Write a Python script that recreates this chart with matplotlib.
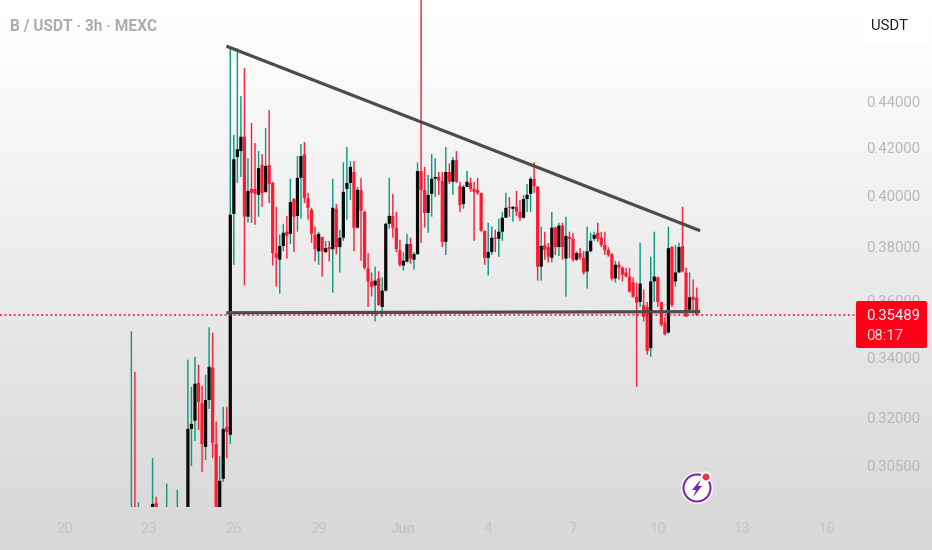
"""B / USDT 3h candles with a hand-drawn descending triangle, TradingView style."""

import matplotlib
matplotlib.use("Agg")
import matplotlib.pyplot as plt
from matplotlib.patches import Circle, FancyBboxPatch, Polygon
import numpy as np

plt.rcParams["font.family"] = ["Roboto", "DejaVu Sans"]

PAIR_TITLE = "B / USDT · 3h · MEXC"
LAST_PRICE = 0.35489
COUNTDOWN = "08:17"

# price ticks (log axis) and date ticks
PRICE_TICKS = [0.44, 0.42, 0.40, 0.38, 0.36, 0.34, 0.32, 0.305]
DATE_SLOTS = [-47, -23, 1, 25, 49, 73, 97, 121, 145, 169]
DATE_LABELS = ["20", "23", "26", "29", "Jun", "4", "7", "10", "13", "16"]

# 3h bar number, 0 is the big breakout bar; early bars are sparse
SLOTS = [-28, -27, -26, -22, -21, -18, -15] + list(range(-12, 133))

OPENS = [
    .2925, .2926, .2925, .2925, .2936, .2925, .2925,
    .2925, .3164, .3190, .3314, .3247, .3107, .3257, .3365, .3116, .2925, .3009, .3171,
    .3145, .3928, .4159, .4184, .4245, .3917, .4028, .4028, .4004, .4126, .4016, .4126,
    .4052, .3776, .3751, .3803, .3858, .3850, .3987, .3920, .4073, .4171, .3991, .3944,
    .3846, .3783, .3838, .3780, .3799, .3791, .3948, .3799, .3835, .4028, .4052, .4097,
    .3874, .4024, .3936, .3718, .3670, .3655, .3681, .3577, .3636, .3889, .3920, .3874,
    .3787, .3729, .3744, .3811, .3751, .3772, .4101, .4024, .3932, .4008, .4069, .4077,
    .4061, .3819, .4097, .4057, .4146, .4040, .3967, .4036, .4052, .4028, .4024, .4012,
    .3862, .3758, .3780, .3835, .3831, .3858, .3913, .3956, .3948, .3956, .3936, .3913,
    .3987, .4008, .4069, .4036, .3725, .3807, .3799, .3758, .3874, .3799, .3882, .3755,
    .3838, .3831, .3751, .3776, .3758, .3707, .3783, .3831, .3854, .3835, .3807, .3787,
    .3772, .3681, .3732, .3721, .3703, .3688, .3666, .3614, .3595, .3584, .3577, .3432,
    .3670, .3685, .3595, .3521, .3486, .3799, .3670, .3703, .3803, .3703, .3567, .3614,
    .3610,
]
HIGHS = [
    .3490, .3351, .2939, .3072, .2955, .2994, .2976,
    .3392, .3301, .3402, .3375, .3304, .3341, .3504, .3486, .3187, .3078, .3235, .3235,
    .4650, .4253, .4640, .4422, .4548, .4154, .4304, .4218, .4184, .4171, .4283, .4360,
    .4057, .3956, .3847, .3889, .3920, .4069, .3991, .4163, .4214, .4222, .4012, .3952,
    .3878, .3858, .3838, .3823, .3823, .4069, .3967, .3866, .4137, .4201, .4142, .4142,
    .4036, .4073, .3940, .3776, .3703, .3725, .3707, .3685, .3893, .4073, .4008, .3936,
    .3827, .3780, .3850, .3835, .3780, .4137, .4900, .4118, .4085, .4171, .4154, .4097,
    .4097, .4201, .4133, .4159, .4184, .4057, .4044, .4101, .4073, .4057, .4073, .4012,
    .3862, .3893, .3878, .3866, .3909, .3936, .4012, .3995, .3959, .4020, .3983, .4004,
    .4048, .4077, .4137, .4040, .3878, .3858, .3815, .3936, .3878, .3893, .3893, .3917,
    .3858, .3854, .3783, .3795, .3783, .3878, .3854, .3858, .3893, .3858, .3858, .3799,
    .3776, .3747, .3744, .3725, .3721, .3721, .3685, .3666, .3815, .3640, .3595, .3762,
    .3858, .3688, .3595, .3542, .3878, .3803, .3807, .3815, .3956, .3721, .3703, .3677,
    .3647,
]
LOWS = [
    .2925, .2925, .2925, .2925, .2925, .2925, .2925,
    .2925, .3048, .3126, .3161, .3030, .3066, .3228, .3072, .2925, .2925, .3000, .3072,
    .3116, .3732, .4052, .4077, .3655, .3893, .3893, .3885, .3917, .3956, .4012, .3971,
    .3729, .3651, .3625, .3783, .3755, .3811, .3780, .3858, .3909, .3971, .3905, .3815,
    .3744, .3732, .3688, .3776, .3744, .3629, .3772, .3703, .3823, .3905, .3983, .3783,
    .3870, .3747, .3714, .3577, .3614, .3525, .3581, .3542, .3633, .3870, .3835, .3780,
    .3725, .3710, .3740, .3736, .3714, .3769, .3815, .3874, .3854, .3917, .3995, .4004,
    .3799, .3769, .4048, .4004, .4052, .3936, .3948, .4036, .4016, .3823, .4004, .3858,
    .3732, .3692, .3769, .3780, .3762, .3823, .3913, .3917, .3897, .3920, .3901, .3909,
    .3936, .3936, .4012, .3673, .3673, .3751, .3740, .3740, .3769, .3765, .3751, .3614,
    .3758, .3744, .3747, .3751, .3695, .3644, .3780, .3823, .3819, .3799, .3769, .3762,
    .3673, .3666, .3677, .3670, .3685, .3629, .3610, .3301, .3577, .3525, .3409, .3402,
    .3595, .3577, .3507, .3476, .3483, .3577, .3651, .3703, .3703, .3542, .3563, .3560,
    .3545,
]
CLOSES = [
    .2925, .2925, .2925, .2934, .2925, .2925, .2925,
    .3164, .3180, .3311, .3251, .3116, .3257, .3368, .3120, .2925, .3003, .3164, .3154,
    .3925, .4150, .4192, .4245, .3917, .4020, .4012, .4008, .4113, .4012, .4122, .4048,
    .3776, .3758, .3803, .3854, .3842, .3975, .3917, .4073, .4163, .3991, .3952, .3850,
    .3791, .3850, .3783, .3795, .3791, .3952, .3799, .3835, .4016, .4052, .4118, .3874,
    .4024, .3940, .3721, .3670, .3651, .3673, .3584, .3636, .3889, .3920, .3874, .3791,
    .3732, .3747, .3811, .3755, .3772, .4101, .4024, .3932, .4004, .4069, .4077, .4061,
    .3819, .4097, .4057, .4146, .4057, .3963, .4036, .4057, .4028, .4016, .4012, .3862,
    .3758, .3780, .3835, .3831, .3858, .3913, .3952, .3952, .3956, .3936, .3913, .3987,
    .4004, .4069, .4040, .3725, .3803, .3787, .3762, .3874, .3799, .3882, .3799, .3842,
    .3831, .3751, .3776, .3758, .3703, .3783, .3823, .3846, .3831, .3807, .3787, .3769,
    .3681, .3732, .3721, .3695, .3688, .3633, .3614, .3592, .3662, .3542, .3422, .3670,
    .3688, .3595, .3514, .3480, .3795, .3584, .3703, .3799, .3707, .3542, .3612, .3602,
    .35489,
]

# drawn trend lines: (bar, price) at each end
RESISTANCE_X, RESISTANCE_Y = [-1.1, 133], [0.4650, 0.3862]
SUPPORT_X, SUPPORT_Y = [-1.1, 133], [0.3556, 0.3560]

WICK_UP = "#149a80"
WICK_DOWN = "#f5263f"
BODY_UP = "#0a0a0a"
BODY_DOWN = "#ff1a33"
LINE_GREY = "#4c4c4c"
AXIS_GREY = "#b9b9b9"


def main():
    fig = plt.figure(figsize=(9.32, 5.5), dpi=100)

    # page background fades from white to light grey
    back = fig.add_axes([0, 0, 1, 1], zorder=0)
    shade = np.interp(np.arange(550), [0, 40, 300, 550], [1.0, 0.99, 0.91, 0.84])
    back.imshow(shade[:, None], cmap="gray", vmin=0, vmax=1, aspect="auto")
    back.axis("off")

    ax = fig.add_axes([0, 0, 1, 1], facecolor="none", zorder=1)
    ax.set_yscale("log")

    x = np.array(SLOTS, dtype=float)
    opens, highs = np.array(OPENS), np.array(HIGHS)
    lows, closes = np.array(LOWS), np.array(CLOSES)
    up = closes >= opens

    wicks = ax.vlines(x, lows, highs, colors=np.where(up, WICK_UP, WICK_DOWN), lw=1.05, zorder=2)
    wicks.set_snap(False)
    body_low = np.minimum(opens, closes)
    body_high = np.maximum(opens, closes)
    bodies = ax.bar(x, body_high - body_low, bottom=body_low, width=0.92,
                    color=np.where(up, BODY_UP, BODY_DOWN), lw=0, zorder=3)
    for body in bodies:
        body.set_snap(False)

    ax.axhline(LAST_PRICE, xmax=855 / 932, color="#f0101f", lw=1.1, dashes=(1.2, 1.8), zorder=4)
    ax.plot(RESISTANCE_X, RESISTANCE_Y, color=LINE_GREY, lw=2.3, solid_capstyle="butt", zorder=5)
    ax.plot(SUPPORT_X, SUPPORT_Y, color=LINE_GREY, lw=2.3, solid_capstyle="butt", zorder=5)

    ax.set_xlim((0 - 230.3) / 3.533, (932 - 230.3) / 3.533)
    ax.set_ylim(0.2801, 0.4871)
    ax.set_yticks(PRICE_TICKS, [f"{p:.5f}" for p in PRICE_TICKS])
    ax.minorticks_off()
    ax.set_xticks(DATE_SLOTS, DATE_LABELS)
    ax.tick_params(axis="y", length=0, labelright=True, labelleft=False, right=False, left=False,
                   pad=-47.5, labelsize=10.7, labelcolor=AXIS_GREY)
    ax.tick_params(axis="x", length=0, pad=-20, labelsize=10.7, labelcolor="#c6c6c6")
    for label in ax.get_xticklabels():
        if label.get_text() == "Jun":
            label.set_fontweight("bold")
    for spine in ax.spines.values():
        spine.set_visible(False)

    # overlay in pixel units for the app's chrome
    ui = fig.add_axes([0, 0, 1, 1], facecolor="none", zorder=2)
    ui.set_xlim(0, 932)
    ui.set_ylim(550, 0)
    ui.axis("off")

    ui.text(10, 26, PAIR_TITLE, fontsize=11.2, fontweight="bold", color="#acacac", va="center")

    ui.add_patch(FancyBboxPatch((862, 7), 64, 37, boxstyle="round,pad=0,rounding_size=3", fc="white", ec="none"))
    ui.text(871, 25.5, "USDT", fontsize=10.7, color="#1c1c1c", va="center")

    ui.add_patch(FancyBboxPatch((856, 301), 71, 47, boxstyle="round,pad=0,rounding_size=2", fc="#ff0019", ec="none"))
    ui.text(866.5, 316, f"{LAST_PRICE:.5f}", fontsize=10.7, color="white", va="center")
    ui.text(866.5, 336.5, COUNTDOWN, fontsize=10.7, color="#ffd8d8", va="center")

    # lightning badge
    ui.add_patch(Circle((697, 488), 16, fc="white", ec="none"))
    ui.add_patch(Circle((697, 488), 13.5, fc="none", ec="#7b25a8", lw=1.5))
    ui.add_patch(Polygon([(701, 479), (692, 490), (696, 490), (693, 497), (702, 486), (698, 486)],
                         fc="#7b25a8", ec="none"))
    ui.add_patch(Circle((706, 477), 5.5, fc="white", ec="none"))
    ui.add_patch(Circle((706, 477), 3.5, fc="#ee3340", ec="none"))

    fig.savefig("out.png", dpi=100)


if __name__ == "__main__":
    main()
